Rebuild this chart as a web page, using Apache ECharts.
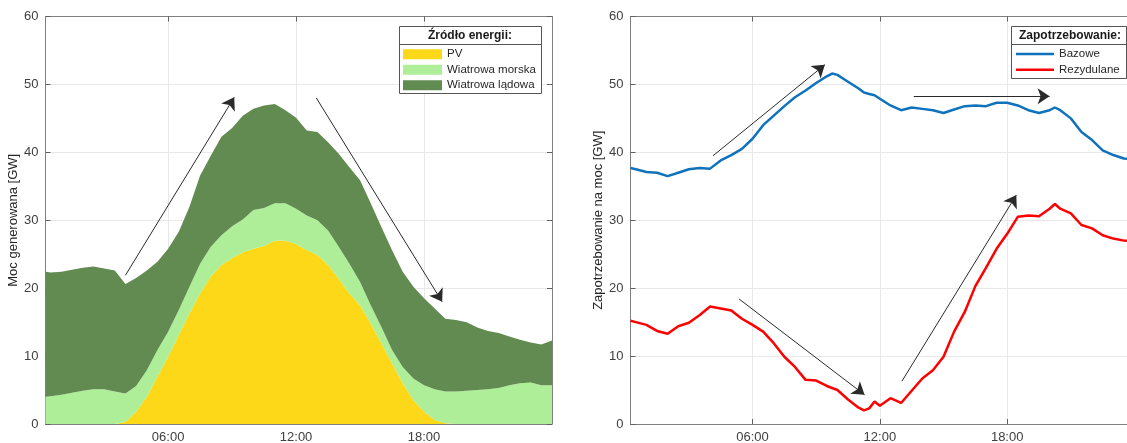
<!DOCTYPE html>
<html>
<head>
<meta charset="utf-8">
<script src="https://cdn.jsdelivr.net/npm/echarts@6/dist/echarts.min.js"></script>
<style>
  html, body { margin: 0; padding: 0; background: #ffffff; }
  #chart { width: 1127px; height: 443px; }
</style>
</head>
<body>
<div id="chart"></div>
<script>
// ---------- DATA ----------
const xTickValues = [6, 12, 18];
const xTickLabels = ['06:00', '12:00', '18:00'];

// Left chart: generation by source [GW], hours of day
const hoursL = [0.25,0.5,1,1.5,2,2.5,3,3.5,4,4.5,5,5.5,6,6.5,7,7.5,8,8.5,9,9.5,10,10.5,11,11.5,12,12.5,13,13.5,14,14.5,15,15.5,16,16.5,17,17.5,18,18.5,19,19.5,20,20.5,21,21.5,22,22.5,23,23.5,24];
const pv = [0,0,0,0,0,0,0,0,0.3,1.8,4.0,7.0,9.9,13.1,16.3,19.2,21.7,23.4,24.4,25.3,25.8,26.2,27.0,27.0,26.5,25.6,24.9,23.4,21.4,19.2,17.5,14.8,11.9,8.9,6.0,3.5,1.8,0.6,0.1,0,0,0,0,0,0,0,0,0,0];
const offshore = [4.0,4.1,4.3,4.6,4.9,5.1,5.1,4.8,4.2,3.8,3.9,3.9,3.7,3.7,3.9,4.4,4.4,4.4,4.7,4.8,5.7,5.6,5.5,5.5,5.2,5.1,5.1,5.1,4.7,4.4,3.4,2.7,2.4,2.0,2.4,3.2,3.9,4.5,4.7,4.8,4.9,5.0,5.1,5.3,5.7,6.0,6.1,5.7,5.7];
const onshore = [18.4,18.2,18.1,18.1,18.1,18.1,17.8,17.8,16.1,15.9,14.7,13.0,12.2,11.5,11.8,13.0,13.4,14.5,14.5,15.3,14.9,15.1,14.6,13.7,13.4,12.5,13.0,13.0,13.7,14.2,15.0,15.0,14.7,14.7,14.0,13.5,12.8,11.9,10.7,10.5,10.1,9.2,8.6,8.1,7.2,6.4,5.9,6.0,6.6];

// Right chart: demand [GW]
const hoursR = [0.25,0.5,1,1.5,2,2.5,3,3.5,4,4.5,5,5.5,6,6.5,7,7.5,8,8.5,9,9.5,9.75,10,10.5,11,11.25,11.5,11.75,12,12.5,13,13.5,14,14.5,15,15.5,16,16.5,17,17.5,18,18.5,19,19.5,20,20.25,20.5,21,21.5,22,22.5,23,23.5,24];
const baseDemand = [37.7,37.5,37.1,37.0,36.5,37.0,37.5,37.7,37.6,38.8,39.6,40.5,42.0,44.0,45.4,46.8,48.1,49.1,50.2,51.2,51.6,51.4,50.4,49.4,48.8,48.6,48.4,47.9,46.9,46.2,46.6,46.4,46.2,45.8,46.3,46.8,46.9,46.8,47.3,47.3,46.9,46.2,45.8,46.2,46.6,46.2,45.0,43.0,41.8,40.3,39.6,39.1,38.9];
const residualDemand = [15.2,15.0,14.6,13.7,13.3,14.4,14.9,16.0,17.3,17.0,16.7,15.5,14.6,13.6,11.9,9.9,8.4,6.5,6.4,5.6,5.3,5.0,3.6,2.4,2.0,2.3,3.3,2.7,3.8,3.1,4.9,6.7,7.9,9.9,13.6,16.5,20.3,23.0,25.8,28.0,30.5,30.7,30.6,31.7,32.4,31.7,31.0,29.3,28.8,27.8,27.3,27.0,26.9];

// Annotation arrows [x1, y1, x2, y2] in data units (hours, GW)
const arrowsL = [[4.0, 21.9, 9.1, 48.1], [12.95, 48.0, 18.85, 18.0]];
const arrowsR = [[4.14, 39.5, 9.41, 52.9], [13.6, 48.2, 20.0, 48.25], [5.37, 18.4, 11.28, 4.3], [13.04, 6.3, 18.43, 33.7]];

// ---------- STYLE ----------
const FONT = "'Liberation Sans', Arial, Helvetica, sans-serif";
const AXIS_COLOR = '#808080';
const GRID_COLOR = '#e8e8e8';
const LABEL_COLOR = '#404040';
const C_PV = '#FDD818', C_OFF = '#AEEE98', C_ON = '#618B50';
const C_BASE = '#0F72BD', C_RES = '#FF0000';

// value first, hour second (so that stacking happens on the value dimension)
const pairsVX = (xs, ys) => xs.map((x, i) => [ys[i], x]);
const pairs = (xs, ys) => xs.map((x, i) => [x, ys[i]]);
const arrowData = arr => arr.map(a => [{ coord: [a[0], a[1]] }, { coord: [a[2], a[3]] }]);

function xAxes(gridIndex) {
  return [
    {
      type: 'value', gridIndex, min: 0.25, max: 24, position: 'bottom',
      axisLine: { show: true, onZero: false, lineStyle: { color: AXIS_COLOR, width: 1 } },
      axisTick: { show: true, inside: true, length: 5, customValues: xTickValues, lineStyle: { color: '#606060' } },
      axisLabel: { show: true, customValues: xTickValues, margin: 7, color: LABEL_COLOR, fontSize: 13, fontFamily: FONT,
        formatter: v => xTickLabels[xTickValues.indexOf(v)] || '' },
      splitLine: { show: true, lineStyle: { color: GRID_COLOR, width: 1 } }
    },
    {
      type: 'value', gridIndex, min: 0.25, max: 24, position: 'top',
      axisLine: { show: true, onZero: false, lineStyle: { color: AXIS_COLOR, width: 1 } },
      axisTick: { show: true, inside: true, length: 5, customValues: xTickValues, lineStyle: { color: '#606060' } },
      axisLabel: { show: false },
      splitLine: { show: false }
    }
  ];
}
function yAxes(gridIndex, name, nameGap) {
  return [
    {
      type: 'value', gridIndex, min: 0, max: 60, interval: 10, position: 'left',
      name, nameLocation: 'middle', nameGap, nameRotate: 90,
      nameTextStyle: { color: '#262626', fontSize: 13, fontFamily: FONT },
      axisLine: { show: true, onZero: false, lineStyle: { color: AXIS_COLOR, width: 1 } },
      axisTick: { show: true, inside: true, length: 5, lineStyle: { color: '#606060' } },
      axisLabel: { show: true, margin: 7, color: LABEL_COLOR, fontSize: 13, fontFamily: FONT },
      splitLine: { show: true, lineStyle: { color: GRID_COLOR, width: 1 } }
    },
    {
      type: 'value', gridIndex, min: 0, max: 60, interval: 10, position: 'right',
      axisLine: { show: true, onZero: false, lineStyle: { color: AXIS_COLOR, width: 1 } },
      axisTick: { show: true, inside: true, length: 5, lineStyle: { color: '#606060' } },
      axisLabel: { show: false },
      splitLine: { show: false }
    }
  ];
}

const arrowMark = arr => ({
  silent: true,
  symbol: ['none', 'arrow'],
  symbolSize: 12,
  label: { show: false },
  emphasis: { disabled: true },
  lineStyle: { color: '#2a2a2a', width: 1, type: 'solid' },
  itemStyle: { color: '#000' },
  animation: false,
  data: arrowData(arr)
});

const areaSeries = (name, data, color, extra) => Object.assign({
  name, type: 'line', xAxisIndex: 0, yAxisIndex: 0, stack: 'gen',
  encode: { x: 1, y: 0 },
  data: pairsVX(hoursL, data), showSymbol: false, symbol: 'none',
  lineStyle: { width: 0, color }, itemStyle: { color },
  areaStyle: { color, opacity: 1 }, emphasis: { disabled: true }
}, extra || {});

const lineSeries = (name, data, color, extra) => Object.assign({
  name, type: 'line', xAxisIndex: 2, yAxisIndex: 2,
  data: pairs(hoursR, data), showSymbol: false, symbol: 'none',
  lineStyle: { width: 2.5, color }, itemStyle: { color },
  emphasis: { disabled: true }
}, extra || {});

const option = {
  animation: false,
  backgroundColor: '#ffffff',
  textStyle: { fontFamily: FONT },
  grid: [
    { left: 45.5, top: 16.5, width: 506.5, height: 407.5, containLabel: false, outerBoundsMode: 'none' },
    { left: 630.5, top: 16.5, width: 504, height: 407.5, containLabel: false, outerBoundsMode: 'none' }
  ],
  xAxis: [...xAxes(0), ...xAxes(1)],
  yAxis: [...yAxes(0, 'Moc generowana [GW]', 21), ...yAxes(1, 'Zapotrzebowanie na moc [GW]', 26)],
  legend: [
    {
      orient: 'vertical', left: 403, top: 47.3, padding: 0, itemGap: 1.5,
      itemWidth: 39, itemHeight: 10, icon: 'rect', selectedMode: false, z: 6,
      textStyle: { fontSize: 11.5, color: '#262626', fontFamily: FONT, lineHeight: 14 },
      data: ['PV', 'Wiatrowa morska', 'Wiatrowa lądowa']
    },
    {
      orient: 'vertical', left: 1016, top: 47, padding: 0, itemGap: 1.7,
      itemWidth: 38, itemHeight: 2.5, icon: 'rect', selectedMode: false, z: 6,
      textStyle: { fontSize: 11.5, color: '#262626', fontFamily: FONT, lineHeight: 14 },
      data: ['Bazowe', 'Rezydulane']
    }
  ],
  graphic: [
    { type: 'rect', z: 5, shape: { x: 399.5, y: 26.5, width: 142, height: 67 }, style: { fill: '#ffffff', stroke: '#555555', lineWidth: 1 } },
    { type: 'line', z: 5, shape: { x1: 399.5, y1: 44.5, x2: 541.5, y2: 44.5 }, style: { stroke: '#555555', lineWidth: 1 } },
    { type: 'text', z: 7, x: 470, y: 35.5, style: { text: 'Źródło energii:', fontSize: 12, fontWeight: 'bold', fill: '#1a1a1a', fontFamily: FONT, align: 'center', verticalAlign: 'middle' } },
    { type: 'rect', z: 5, shape: { x: 1011.5, y: 26.5, width: 115, height: 52 }, style: { fill: '#ffffff', stroke: '#555555', lineWidth: 1 } },
    { type: 'line', z: 5, shape: { x1: 1011.5, y1: 44.5, x2: 1126.5, y2: 44.5 }, style: { stroke: '#555555', lineWidth: 1 } },
    { type: 'text', z: 7, x: 1070, y: 35.5, style: { text: 'Zapotrzebowanie:', fontSize: 12, fontWeight: 'bold', fill: '#1a1a1a', fontFamily: FONT, align: 'center', verticalAlign: 'middle' } }
  ],
  series: [
    areaSeries('PV', pv, C_PV),
    areaSeries('Wiatrowa morska', offshore, C_OFF),
    areaSeries('Wiatrowa lądowa', onshore, C_ON),
    lineSeries('Bazowe', baseDemand, C_BASE),
    lineSeries('Rezydulane', residualDemand, C_RES, { markLine: arrowMark(arrowsR) }),
    {
      name: 'arrowsLeft', type: 'line', xAxisIndex: 0, yAxisIndex: 0, data: [], symbol: 'none',
      markLine: arrowMark(arrowsL)
    }
  ]
};

const chart = echarts.init(document.getElementById('chart'), null, { renderer: 'canvas', width: 1127, height: 443 });
chart.setOption(option);
</script>
</body>
</html>
